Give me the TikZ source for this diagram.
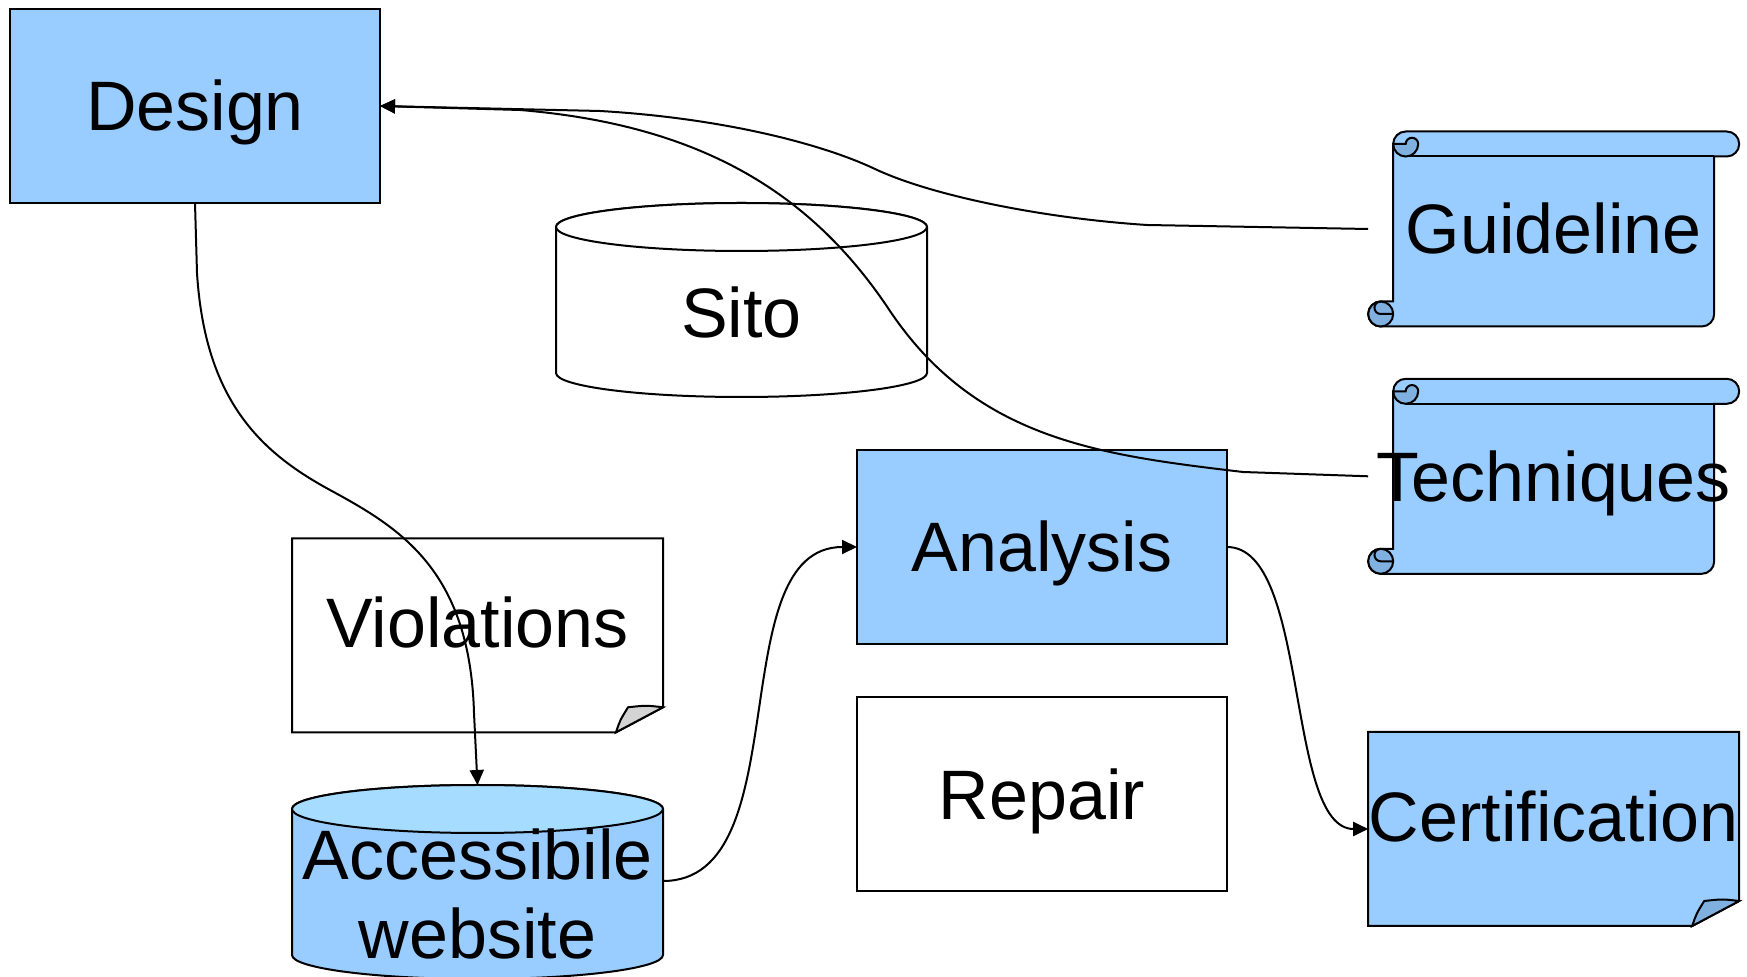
\documentclass[tikz,border=0pt]{standalone}
\usepackage{fontspec}
\setmainfont{Liberation Sans}
\usetikzlibrary{positioning,arrows.meta}
\definecolor{shapeblue}{HTML}{99CCFF}
\definecolor{curlblue}{HTML}{80B0E0}
\definecolor{topblue}{HTML}{A6DCFF}
\definecolor{flapgray}{HTML}{D4D4D4}
\pgfdeclarelayer{background}
\pgfsetlayers{background,main}
\newcommand\diagfont{\fontsize{35pt}{39.5pt}\selectfont}
\tikzset{
    shapetext/.style={font=\diagfont, inner sep=0pt, outer sep=0pt, minimum width=185.5pt},
    oneline/.style={text height=25pt, text depth=0pt},
    boxnode/.style={shapetext, oneline, draw, line width=1pt, minimum width=185pt, minimum height=97pt},
    bluebox/.style={boxnode, fill=shapeblue},
    scrollnode/.style={shapetext, oneline, minimum height=97.5pt}, % scroll drawn behind
    notenode/.style={shapetext, oneline, minimum height=84.5pt},   % fold hangs below
    cylnode/.style={shapetext, minimum height=85pt},               % lid sits above
    flow/.style={line width=1pt, -{Triangle[length=7.5pt,width=7pt]}}
}
\newcommand\drawscroll[1]{%
    \begin{scope}[shift={(#1.south west)}, line width=1pt]
        \filldraw[fill=shapeblue] (12.5pt,91.25pt) -- (12.5pt,12.5pt) -- (6.25pt,12.5pt)
            arc[start angle=90,end angle=270,radius=6.25pt] -- (166.75pt,0pt)
            arc[start angle=270,end angle=360,radius=6.25pt] -- (173pt,85pt) -- (179.25pt,85pt)
            arc[start angle=-90,end angle=90,radius=6.25pt] -- (18.75pt,97.5pt)
            arc[start angle=90,end angle=180,radius=6.25pt] -- cycle;
        \draw (18.75pt,85pt) -- (173pt,85pt);
        \filldraw[fill=curlblue] (12.5pt,91.25pt) arc[start angle=180,end angle=360,radius=6.25pt]
            arc[start angle=0,end angle=180,radius=3.125pt] -- cycle;
        \filldraw[fill=curlblue] (6.25pt,6.25pt) circle[radius=6.25pt];
        \draw (12.5pt,6.25pt) -- (6.25pt,6.25pt) arc[start angle=270,end angle=90,radius=3.125pt];
    \end{scope}}
\newcommand\drawnote[3]{%
    \begin{scope}[shift={(#1.south west)}, yshift=-12.5pt, line width=1pt]
        \filldraw[fill=#2] (0pt,0pt) -- (162pt,0pt) -- (185.5pt,12.5pt) -- (185.5pt,97pt) -- (0pt,97pt) -- cycle;
        \filldraw[fill=#3] (162pt,0pt) .. controls (164pt,6pt) .. (168pt,12.5pt)
            .. controls (177pt,13.5pt) .. (185.5pt,12.5pt) -- cycle;
    \end{scope}}
\newcommand\drawcyl[3]{%
    \begin{scope}[shift={(#1.south west)}, line width=1pt]
        \filldraw[fill=#2] (0pt,85pt) -- (0pt,12pt)
            arc[start angle=180,end angle=360,x radius=92.75pt,y radius=12pt] -- (185.5pt,85pt)
            arc[start angle=0,end angle=180,x radius=92.75pt,y radius=12pt] -- cycle;
        \filldraw[fill=#3] (92.75pt,85pt) ellipse[x radius=92.75pt,y radius=12pt];
    \end{scope}}

\begin{document}
\begin{tikzpicture}[on grid]
    \useasboundingbox (0,0) rectangle (873.5pt,-488.5pt);

    \node[bluebox] (design) at (97.5pt,-53pt) {Design};
    \node[cylnode, below right = 103pt and 273.25pt of design] (sito) {Sito};
    \node[notenode, below right = 258.4pt and 141.25pt of design] (viol) {Violations};
    \node[cylnode, below = 135.6pt of viol, align=center] (acc) {Accessibile\\website};
    \node[bluebox, below right = 220.5pt and 423.5pt of design] (analysis) {Analysis};
    \node[boxnode, below = 123.7pt of analysis] (repair) {Repair};
    \node[scrollnode, below right = 61.5pt and 679.35pt of design] (guide) {Guideline};
    \node[scrollnode, below = 123.65pt of guide] (tech) {Techniques};
    \node[notenode, below = 170.1pt of tech] (cert) {Certification};
    \coordinate (acc-top) at ([yshift=12pt]acc.north);

    \begin{pgfonlayer}{background}
        \drawcyl{sito}{white}{white}
        \drawcyl{acc}{shapeblue}{topblue}
        \drawnote{viol}{white}{flapgray}
        \drawnote{cert}{shapeblue}{curlblue}
        \drawscroll{guide}
        \drawscroll{tech}
    \end{pgfonlayer}

    \begin{scope}[x=0.5pt,y=-0.5pt]
        \draw[flow] (design.south) -- (197,273) .. controls (205,400) and (260,452) .. (330,490)
            .. controls (400,528) and (470,570) .. (474,713) -- (acc-top);
        \draw[flow] ([yshift=6.5pt]acc.east) .. controls (800,881) and (720,547) .. (analysis.west);
        \draw[flow] (analysis.east) .. controls (1310,547) and (1285,829) .. ([yshift=-6.25pt]cert.west);
        \draw[flow] (guide.west) -- (1147,225) .. controls (1040,218) and (930,195) .. (875,169)
            .. controls (820,143) and (720,118) .. (600,111) -- (design.east);
        \draw[flow] (tech.west) -- (1243,472) .. controls (1100,455) and (975,440) .. (888,308)
            .. controls (810,192) and (700,125) .. (520,110) -- (design.east);
    \end{scope}
\end{tikzpicture}
\end{document}
